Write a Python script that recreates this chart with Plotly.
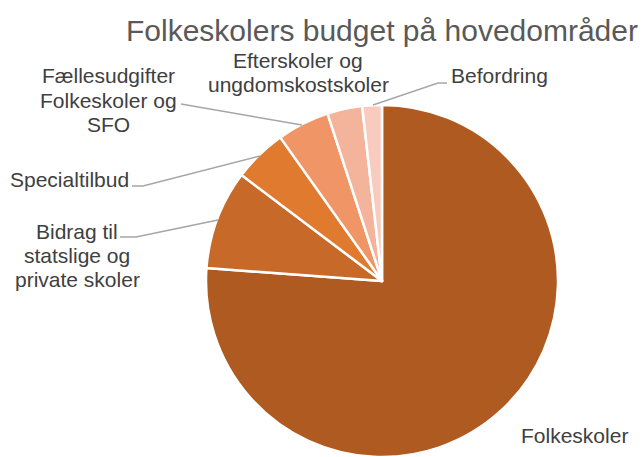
import plotly.graph_objects as go

W, H = 644, 457

categories = ["Folkeskoler", "Bidrag til statslige og private skoler", "Specialtilbud",
              "Fællesudgifter Folkeskoler og SFO", "Efterskoler og ungdomskostskoler", "Befordring"]
shares = [76.1, 9.1, 4.9, 4.8, 3.2, 1.8]
colors = ["#AE5A21", "#C76A29", "#E07A2F", "#EF9566", "#F4B39B", "#F8CBBE"]

# label text lines (layout only)
label_lines = {
    "Folkeskoler": ["Folkeskoler"],
    "Bidrag til statslige og private skoler": ["Bidrag til", "statslige og", "private skoler"],
    "Specialtilbud": ["Specialtilbud"],
    "Fællesudgifter Folkeskoler og SFO": ["Fællesudgifter", "Folkeskoler og", "SFO"],
    "Efterskoler og ungdomskostskoler": ["Efterskoler og", "ungdomskostskoler"],
    "Befordring": ["Befordring"],
}
# label centre positions in pixels (x, y of first line)
label_pos = {
    "Folkeskoler": (574, 435),
    "Bidrag til statslige og private skoler": (77, 231),
    "Specialtilbud": (69, 179),
    "Fællesudgifter Folkeskoler og SFO": (108, 76),
    "Efterskoler og ungdomskostskoler": (298, 61),
    "Befordring": (499, 76),
}
LINE_STEP = 24
leaders = [
    [(120, 237), (136, 237), (218, 220)],
    [(132, 186), (143, 186), (260, 156)],
    [(181, 104), (302, 125)],
    [(373, 105), (438, 83), (447, 83)],
]


def px(x, y):
    return x / W, 1 - y / H


fig = go.Figure(go.Pie(
    labels=categories,
    values=shares,
    sort=False,
    direction="clockwise",
    rotation=0,
    marker=dict(colors=colors, line=dict(color="white", width=2.5)),
    textinfo="none",
    hoverinfo="label+percent",
    showlegend=False,
    domain=dict(x=[205 / W, 559 / W], y=[0, 352 / H]),
))

annotations = []
for cat in categories:
    x0, y0 = label_pos[cat]
    for i, line in enumerate(label_lines[cat]):
        ax, ay = px(x0, y0 + i * LINE_STEP)
        annotations.append(dict(
            text=line, x=ax, y=ay, xref="paper", yref="paper",
            xanchor="center", yanchor="middle", showarrow=False,
            font=dict(family="Liberation Sans, Arial, sans-serif", size=21, color="#404040"),
        ))

tx, ty = px(382, 30)
annotations.append(dict(
    text="Folkeskolers budget på hovedområder", x=tx, y=ty, xref="paper", yref="paper",
    xanchor="center", yanchor="middle", showarrow=False,
    font=dict(family="Liberation Sans, Arial, sans-serif", size=30, color="#595959"),
))

shapes = []
for pts in leaders:
    path = ""
    for j, (x, y) in enumerate(pts):
        X, Y = px(x, y)
        path += ("M" if j == 0 else " L") + f" {X} {Y}"
    shapes.append(dict(type="path", path=path, xref="paper", yref="paper",
                       line=dict(color="#A6A6A6", width=1.5)))

fig.update_layout(
    width=W, height=H,
    margin=dict(l=0, r=0, t=0, b=0),
    paper_bgcolor="white", plot_bgcolor="white",
    annotations=annotations, shapes=shapes,
)

fig.write_html("out.html", config={"displayModeBar": False},
               post_script="document.body.style.margin='0px';")
